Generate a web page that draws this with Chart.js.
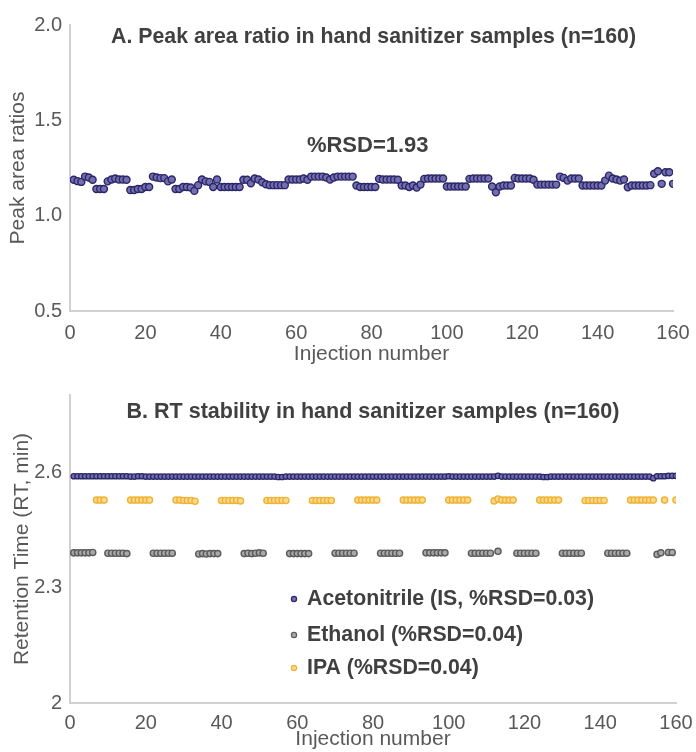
<!DOCTYPE html>
<html>
<head>
<meta charset="utf-8">
<script src="https://cdn.jsdelivr.net/npm/chart.js@4.4.1/dist/chart.umd.min.js"></script>
<style>
    html, body { margin: 0; padding: 0; background: #fff; }
    #wrap { position: relative; width: 696px; height: 752px; overflow: hidden; }
    #chartA { position: absolute; left: 0; top: 0; }
    #chartB { position: absolute; left: 0; top: 372px; }
</style>
</head>
<body>
<div id="wrap">
    <canvas id="chartA" width="696" height="372"></canvas>
    <canvas id="chartB" width="696" height="380"></canvas>
</div>
<script>
const injections = Array.from({ length: 160 }, (_, i) => i + 1);
const injectionTicks = [0, 20, 40, 60, 80, 100, 120, 140, 160];
const ratioTicks = [0.5, 1.0, 1.5, 2.0];
const rtTicks = [2, 2.3, 2.6];

const titleA = 'A. Peak area ratio in hand sanitizer samples (n=160)';
const titleB = 'B. RT stability in hand sanitizer samples (n=160)';
const rsdLabel = '%RSD=1.93';
const seriesNames = ['Acetonitrile (IS, %RSD=0.03)', 'Ethanol (%RSD=0.04)', 'IPA (%RSD=0.04)'];

// peak area ratio, injection 1..160
const peakAreaRatio = [
    1.188, 1.181, 1.177, 1.205, 1.200, 1.188,
    1.140, 1.140, 1.140,
    1.180, 1.190, 1.195, 1.190, 1.190, 1.188,
    1.135, 1.135, 1.140, 1.140, 1.150, 1.150,
    1.205, 1.200, 1.197, 1.197, 1.180, 1.190,
    1.140, 1.140, 1.150, 1.150, 1.148, 1.130,
    1.160, 1.190, 1.180, 1.177, 1.150, 1.190,
    1.150, 1.150, 1.150, 1.150, 1.150, 1.150,
    1.188, 1.188, 1.170, 1.195, 1.190, 1.175,
    1.165, 1.160, 1.160, 1.160, 1.160, 1.160,
    1.190, 1.190, 1.190, 1.190, 1.195, 1.188,
    1.205, 1.205, 1.205, 1.205, 1.200, 1.190,
    1.200, 1.205, 1.205, 1.205, 1.205, 1.205,
    1.158, 1.150, 1.150, 1.150, 1.150, 1.150,
    1.193, 1.190, 1.190, 1.190, 1.190, 1.188,
    1.158, 1.158, 1.150, 1.158, 1.148, 1.163,
    1.193, 1.195, 1.195, 1.195, 1.195, 1.195,
    1.153, 1.153, 1.153, 1.153, 1.153, 1.153,
    1.193, 1.195, 1.195, 1.195, 1.195, 1.195,
    1.153, 1.123, 1.153, 1.158, 1.158, 1.158,
    1.198, 1.195, 1.195, 1.195, 1.195, 1.188,
    1.163, 1.163, 1.163, 1.163, 1.163, 1.163,
    1.205, 1.198, 1.184, 1.195, 1.195, 1.195,
    1.158, 1.158, 1.158, 1.158, 1.158, 1.158,
    1.184, 1.210, 1.195, 1.190, 1.184, 1.190,
    1.149, 1.158, 1.158, 1.158, 1.158, 1.158, 1.160,
    1.220, 1.233, 1.167, 1.228, 1.228, 1.167
];

// retention times (min), injection 1..160
const rtAcetonitrile = [
    2.589, 2.589, 2.589, 2.589, 2.589, 2.589, 2.589, 2.589, 2.589, 2.589,
    2.589, 2.589, 2.589, 2.589, 2.589, 2.588, 2.588, 2.589, 2.589, 2.588,
    2.588, 2.588, 2.588, 2.588, 2.588, 2.588, 2.588, 2.588, 2.588, 2.588,
    2.588, 2.588, 2.588, 2.588, 2.588, 2.588, 2.588, 2.588, 2.588, 2.588,
    2.588, 2.588, 2.588, 2.588, 2.588, 2.588, 2.588, 2.588, 2.588, 2.588,
    2.588, 2.588, 2.588, 2.588, 2.587, 2.587, 2.588, 2.588, 2.588, 2.588,
    2.588, 2.588, 2.588, 2.588, 2.588, 2.588, 2.588, 2.588, 2.588, 2.588,
    2.588, 2.588, 2.588, 2.588, 2.588, 2.588, 2.588, 2.588, 2.588, 2.588,
    2.588, 2.588, 2.588, 2.588, 2.588, 2.588, 2.588, 2.588, 2.588, 2.588,
    2.588, 2.588, 2.588, 2.588, 2.588, 2.588, 2.588, 2.588, 2.588, 2.589,
    2.588, 2.588, 2.588, 2.588, 2.588, 2.588, 2.588, 2.588, 2.588, 2.588,
    2.588, 2.588, 2.590, 2.588, 2.588, 2.588, 2.588, 2.588, 2.588, 2.588,
    2.588, 2.588, 2.588, 2.588, 2.587, 2.587, 2.588, 2.588, 2.588, 2.588,
    2.588, 2.588, 2.588, 2.588, 2.588, 2.588, 2.588, 2.588, 2.588, 2.588,
    2.588, 2.588, 2.588, 2.588, 2.588, 2.588, 2.588, 2.588, 2.588, 2.588,
    2.588, 2.588, 2.588, 2.584, 2.589, 2.589, 2.589, 2.590, 2.590, 2.590
];

const rtEthanol = [
    2.390, 2.390, 2.390, 2.390, 2.390, 2.391,
    null, null, null,
    2.389, 2.389, 2.389, 2.389, 2.389, 2.388,
    null, null, null, null, null, null,
    2.389, 2.389, 2.389, 2.389, 2.389, 2.389,
    null, null, null, null, null, null,
    2.387, 2.388, 2.387, 2.388, 2.388, 2.388,
    null, null, null, null, null, null,
    2.388, 2.389, 2.388, 2.389, 2.390, 2.389,
    null, null, null, null, null, null,
    2.388, 2.388, 2.388, 2.388, 2.388, 2.388,
    null, null, null, null, null, null,
    2.389, 2.389, 2.389, 2.389, 2.389, 2.389,
    null, null, null, null, null, null,
    2.389, 2.389, 2.389, 2.389, 2.389, 2.389,
    null, null, null, null, null, null,
    2.390, 2.390, 2.390, 2.390, 2.390, 2.390,
    null, null, null, null, null, null,
    2.389, 2.389, 2.389, 2.389, 2.389, 2.389,
    null, 2.394, null, null, null, null,
    2.389, 2.389, 2.389, 2.389, 2.389, 2.389,
    null, null, null, null, null, null,
    2.389, 2.389, 2.389, 2.389, 2.389, 2.389,
    null, null, null, null, null, null,
    2.389, 2.389, 2.389, 2.389, 2.389, 2.389,
    null, null, null, null, null, null, null,
    2.386, 2.390, null, 2.391, 2.391, null
];

const rtIPA = [
    null, null, null, null, null, null,
    2.527, 2.527, 2.527,
    null, null, null, null, null, null,
    2.527, 2.527, 2.527, 2.527, 2.527, 2.527,
    null, null, null, null, null, null,
    2.527, 2.527, 2.526, 2.526, 2.526, 2.524,
    null, null, null, null, null, null,
    2.526, 2.526, 2.526, 2.526, 2.526, 2.525,
    null, null, null, null, null, null,
    2.526, 2.526, 2.526, 2.526, 2.526, 2.526,
    null, null, null, null, null, null,
    2.526, 2.526, 2.526, 2.526, 2.526, 2.526,
    null, null, null, null, null, null,
    2.527, 2.527, 2.527, 2.527, 2.527, 2.527,
    null, null, null, null, null, null,
    2.527, 2.527, 2.527, 2.527, 2.527, 2.527,
    null, null, null, null, null, null,
    2.527, 2.527, 2.527, 2.527, 2.527, 2.527,
    null, null, null, null, null, null,
    2.525, 2.530, 2.527, 2.527, 2.527, 2.527,
    null, null, null, null, null, null,
    2.527, 2.527, 2.527, 2.527, 2.527, 2.527,
    null, null, null, null, null, null,
    2.526, 2.526, 2.526, 2.526, 2.526, 2.526,
    null, null, null, null, null, null,
    2.527, 2.527, 2.527, 2.527, 2.527, 2.527, 2.527,
    null, null, 2.527, null, null, 2.527
];

const FONT = '"Liberation Sans", Arial, Helvetica, sans-serif';
const TICK_COLOR = '#595959';
const TEXT_COLOR = '#404040';
const AXIS_COLOR = '#d0d0d0';

const purple = { fill: '#736db2', line: '#2b2665' };
const gray = { fill: '#a9a9a9', line: '#5b5b5b' };
const yellow = { fill: '#f9d98c', line: '#f0b233' };

function toPoints(values) {
    return injections.map((x, i) => ({ x: x, y: values[i] }));
}

function fixedTicks(list) {
    return function (scale) {
        scale.ticks = list.map(v => ({ value: v }));
    };
}

function xScale(bottomHeight, tickPad, titlePad) {
    return {
        type: 'linear',
        min: injectionTicks[0],
        max: injectionTicks[injectionTicks.length - 1],
        afterBuildTicks: fixedTicks(injectionTicks),
        afterFit: function (scale) { scale.height = bottomHeight; },
        grid: { display: false },
        border: { color: AXIS_COLOR, width: 2 },
        ticks: { color: TICK_COLOR, font: { family: FONT, size: 20 }, padding: tickPad, maxRotation: 0 },
        title: {
            display: true,
            text: 'Injection number',
            color: TICK_COLOR,
            font: { family: FONT, size: 21 },
            padding: { top: 0, bottom: titlePad }
        }
    };
}

function yScale(min, max, ticks, title, titlePad, fmt) {
    return {
        min: min,
        max: max,
        afterBuildTicks: fixedTicks(ticks),
        afterFit: function (scale) { scale.width = 70; },
        grid: { display: false },
        border: { color: AXIS_COLOR, width: 2 },
        ticks: { color: TICK_COLOR, font: { family: FONT, size: 20 }, padding: 0, callback: fmt },
        title: {
            display: true,
            text: title,
            color: TICK_COLOR,
            font: { family: FONT, size: 21 },
            padding: { top: titlePad, bottom: 0 }
        }
    };
}

// chart A: peak area ratio
const textA = {
    id: 'textA',
    afterDraw(chart) {
        const { ctx, chartArea, scales } = chart;
        ctx.save();
        ctx.fillStyle = TEXT_COLOR;
        ctx.textAlign = 'center';
        ctx.textBaseline = 'middle';
        ctx.font = 'bold 21.3px ' + FONT;
        ctx.fillText(titleA, (chartArea.left + chartArea.right) / 2 + 2, chartArea.top + 12);
        ctx.font = 'bold 22px ' + FONT;
        ctx.fillText(rsdLabel, scales.x.getPixelForValue(79), scales.y.getPixelForValue(1.366));
        ctx.restore();
    }
};

new Chart(document.getElementById('chartA'), {
    type: 'scatter',
    data: {
        datasets: [{
            label: 'Peak area ratio',
            data: toPoints(peakAreaRatio),
            backgroundColor: purple.fill,
            borderColor: purple.line,
            borderWidth: 1.4,
            pointRadius: 3.5
        }]
    },
    options: {
        responsive: false,
        animation: false,
        layout: { padding: { top: 25, right: 23, left: 0, bottom: 0 } },
        plugins: { legend: { display: false }, tooltip: { enabled: false } },
        scales: {
            x: xScale(61, 2, 5),
            y: yScale(0.5, 2.0, ratioTicks, 'Peak area ratios', 6, v => v.toFixed(1))
        }
    },
    plugins: [textA]
});

// chart B: retention time stability
const textB = {
    id: 'textB',
    afterDraw(chart) {
        const { ctx, chartArea } = chart;
        ctx.save();
        ctx.fillStyle = TEXT_COLOR;
        ctx.font = 'bold 21.5px ' + FONT;
        ctx.textAlign = 'center';
        ctx.textBaseline = 'middle';
        ctx.fillText(titleB, (chartArea.left + chartArea.right) / 2, chartArea.top + 17);

        // legend inside the plot area
        ctx.font = 'bold 21.3px ' + FONT;
        ctx.textAlign = 'left';
        const rows = [227, 263, 296];
        chart.data.datasets.forEach((ds, i) => {
            ctx.beginPath();
            ctx.arc(294, rows[i], 2.6, 0, Math.PI * 2);
            ctx.fillStyle = ds.backgroundColor;
            ctx.fill();
            ctx.lineWidth = 1.2;
            ctx.strokeStyle = ds.borderColor;
            ctx.stroke();
            ctx.fillStyle = TEXT_COLOR;
            ctx.fillText(ds.label, 307, rows[i]);
        });
        ctx.restore();
    }
};

new Chart(document.getElementById('chartB'), {
    type: 'scatter',
    data: {
        datasets: [
            {
                label: seriesNames[0],
                data: toPoints(rtAcetonitrile),
                backgroundColor: purple.fill,
                borderColor: purple.line,
                borderWidth: 1.3,
                pointRadius: 2.7
            },
            {
                label: seriesNames[1],
                data: toPoints(rtEthanol),
                backgroundColor: gray.fill,
                borderColor: gray.line,
                borderWidth: 1.4,
                pointRadius: 3.1
            },
            {
                label: seriesNames[2],
                data: toPoints(rtIPA),
                backgroundColor: yellow.fill,
                borderColor: yellow.line,
                borderWidth: 1.4,
                pointRadius: 3.1
            }
        ]
    },
    options: {
        responsive: false,
        animation: false,
        layout: { padding: { top: 23, right: 20, left: 0, bottom: 0 } },
        plugins: { legend: { display: false }, tooltip: { enabled: false } },
        scales: {
            x: xScale(49, 0, 0),
            y: yScale(2, 2.8, rtTicks, 'Retention Time (RT, min)', 10, v => String(Number(v.toFixed(1))))
        }
    },
    plugins: [textB]
});
</script>
</body>
</html>
